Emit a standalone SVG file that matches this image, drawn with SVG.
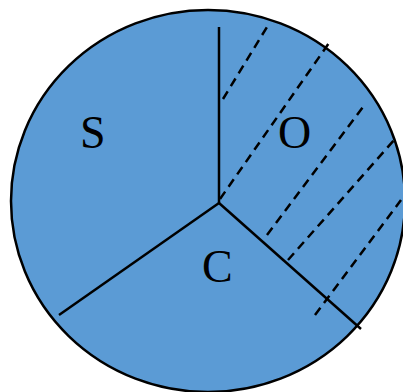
<svg xmlns="http://www.w3.org/2000/svg" width="403" height="392" viewBox="0 0 403 392">
<style>
.solid{stroke:#000;stroke-width:2.5;fill:none}
.dash{stroke:#000;stroke-width:2.5;fill:none;stroke-dasharray:9 6}
.lbl{font-family:"Liberation Serif","Times New Roman",serif;font-size:46px;fill:#000}
</style>
<rect width="403" height="392" fill="#fff"/>
<g id="circle">
<ellipse cx="208" cy="201" rx="197" ry="191" fill="#5b9bd5" stroke="#000" stroke-width="2.5"/>
</g>
<g id="connectors">
<line class="solid" x1="219" y1="203" x2="219" y2="27"/>
<line class="solid" x1="219" y1="203" x2="59" y2="315"/>
<line class="solid" x1="219" y1="203" x2="361" y2="329"/>
<line class="dash" x1="223" y1="99" x2="267" y2="27"/>
<line class="dash" x1="220" y1="199" x2="329" y2="43"/>
<line class="dash" x1="267" y1="235" x2="363" y2="107"/>
<line class="dash" x1="288" y1="260" x2="395" y2="139"/>
<line class="dash" x1="315" y1="315" x2="401" y2="200"/>
</g>
<g id="S"><text class="lbl" x="80" y="148">S</text></g>
<g id="O"><text class="lbl" x="278" y="148">O</text></g>
<g id="C"><text class="lbl" x="202" y="282">C</text></g>
</svg>
